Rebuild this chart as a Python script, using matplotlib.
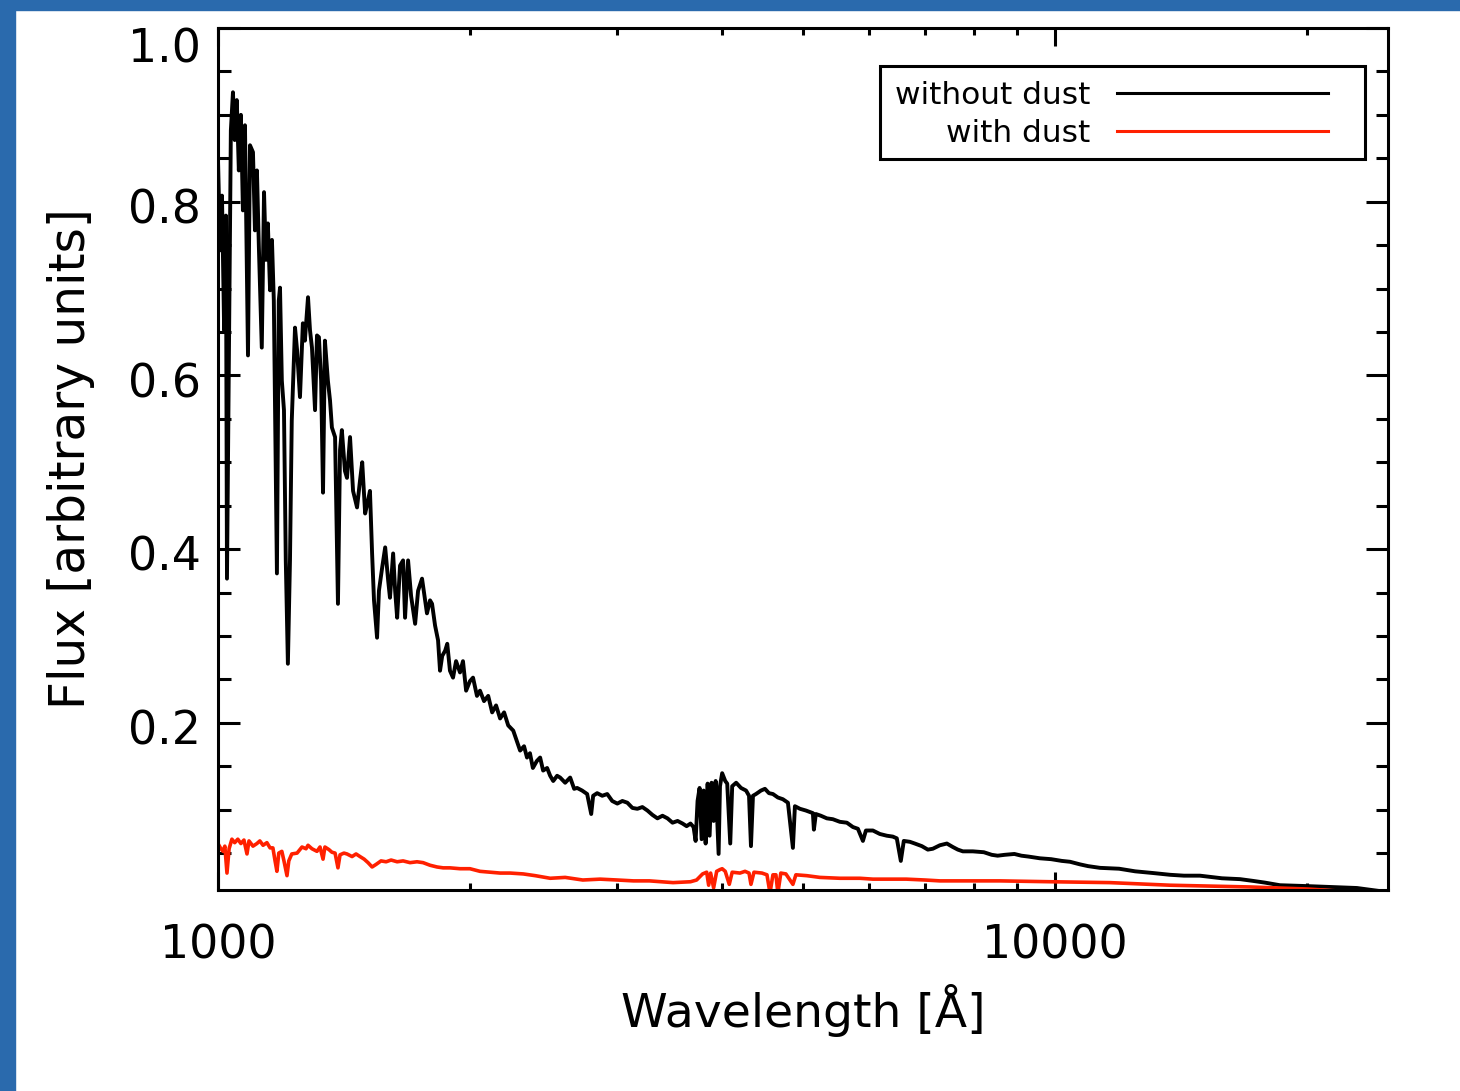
import matplotlib
matplotlib.use('Agg')
import matplotlib.pyplot as plt
from matplotlib.patches import Rectangle
from matplotlib.ticker import FixedLocator, NullFormatter, FixedFormatter
from matplotlib.transforms import ScaledTranslation

# spectrum without dust (wavelength in Angstrom, flux in arbitrary units)
black_wl = [1000, 1006, 1011, 1017, 1022, 1025, 1031, 1036, 1042, 1047, 1053, 1059, 1065, 1071, 1077,
            1086, 1092, 1101, 1107, 1113, 1119, 1128, 1135, 1141, 1147, 1154, 1160, 1166, 1176, 1182,
            1186, 1192, 1199, 1205, 1212, 1219, 1225, 1236, 1243, 1253, 1263, 1270, 1281, 1288, 1295,
            1306, 1313, 1320, 1328, 1335, 1342, 1353, 1361, 1368, 1380, 1391, 1399, 1406, 1418, 1426,
            1438, 1450, 1466, 1478, 1487, 1499, 1511, 1519, 1528, 1536, 1549, 1557, 1571, 1584, 1597,
            1605, 1619, 1628, 1637, 1650, 1664, 1673, 1687, 1701, 1720, 1734, 1753, 1768, 1777, 1792,
            1802, 1817, 1832, 1842, 1853, 1868, 1879, 1893, 1909, 1925, 1946, 1962, 1979, 2000, 2017,
            2039, 2056, 2079, 2103, 2126, 2149, 2173, 2197, 2222, 2253, 2279, 2296, 2321, 2340, 2359,
            2378, 2404, 2426, 2446, 2473, 2494, 2515, 2542, 2563, 2599, 2635, 2664, 2686, 2723, 2761,
            2792, 2807, 2838, 2878, 2918, 2958, 3000, 3042, 3084, 3127, 3170, 3214, 3259, 3304, 3350,
            3397, 3444, 3492, 3541, 3590, 3630, 3669, 3700, 3721, 3741, 3762, 3783, 3804, 3825, 3846,
            3867, 3888, 3910, 3932, 3964, 3979, 4003, 4037, 4059, 4093, 4115, 4160, 4216, 4275, 4310,
            4333, 4357, 4393, 4454, 4503, 4553, 4603, 4666, 4731, 4797, 4863, 4890, 4958, 5040, 5138,
            5152, 5180, 5252, 5339, 5428, 5534, 5641, 5736, 5815, 5896, 5945, 6060, 6177, 6297, 6401,
            6472, 6544, 6598, 6709, 6801, 6934, 7049, 7146, 7286, 7428, 7551, 7655, 7762, 7978, 8223,
            8404, 8541, 8708, 8944, 9119, 9296, 9595, 9895, 10190, 10424, 10715, 10952, 11320, 11930,
            12470, 13110, 13730, 14260, 14900, 15830, 16640, 17240, 17820, 18570, 20000, 21310, 22950,
            25000]
black_flux = [0.848, 0.744, 0.807, 0.652, 0.784, 0.366, 0.652, 0.882, 0.926, 0.871, 0.917, 0.836, 0.900,
              0.790, 0.888, 0.623, 0.865, 0.857, 0.767, 0.836, 0.748, 0.632, 0.811, 0.733, 0.775, 0.698,
              0.756, 0.686, 0.372, 0.686, 0.701, 0.594, 0.560, 0.387, 0.268, 0.387, 0.548, 0.655, 0.629,
              0.575, 0.660, 0.640, 0.690, 0.652, 0.632, 0.560, 0.646, 0.644, 0.594, 0.465, 0.640, 0.594,
              0.571, 0.540, 0.529, 0.337, 0.514, 0.537, 0.490, 0.482, 0.529, 0.467, 0.448, 0.479, 0.500,
              0.441, 0.456, 0.467, 0.395, 0.341, 0.298, 0.352, 0.379, 0.402, 0.364, 0.344, 0.395, 0.352,
              0.321, 0.381, 0.387, 0.321, 0.387, 0.346, 0.314, 0.352, 0.366, 0.341, 0.326, 0.341, 0.337,
              0.312, 0.295, 0.260, 0.277, 0.283, 0.291, 0.260, 0.252, 0.271, 0.258, 0.271, 0.237, 0.248,
              0.252, 0.231, 0.237, 0.225, 0.231, 0.212, 0.220, 0.205, 0.212, 0.197, 0.191, 0.177, 0.168,
              0.173, 0.160, 0.165, 0.148, 0.156, 0.160, 0.145, 0.148, 0.139, 0.133, 0.139, 0.137, 0.131,
              0.137, 0.124, 0.125, 0.122, 0.118, 0.095, 0.116, 0.119, 0.116, 0.118, 0.110, 0.107, 0.110,
              0.108, 0.102, 0.101, 0.103, 0.099, 0.094, 0.090, 0.093, 0.090, 0.085, 0.087, 0.084, 0.081,
              0.084, 0.080, 0.064, 0.110, 0.125, 0.066, 0.122, 0.061, 0.130, 0.070, 0.131, 0.087, 0.133,
              0.049, 0.127, 0.142, 0.133, 0.130, 0.061, 0.127, 0.131, 0.125, 0.122, 0.116, 0.058, 0.116,
              0.118, 0.122, 0.124, 0.119, 0.118, 0.114, 0.112, 0.108, 0.056, 0.104, 0.101, 0.099, 0.096,
              0.077, 0.095, 0.093, 0.090, 0.089, 0.086, 0.085, 0.080, 0.078, 0.064, 0.076, 0.076, 0.072,
              0.070, 0.069, 0.067, 0.041, 0.064, 0.063, 0.061, 0.058, 0.054, 0.055, 0.059, 0.061, 0.057,
              0.054, 0.052, 0.052, 0.051, 0.048, 0.047, 0.048, 0.049, 0.047, 0.046, 0.044, 0.043, 0.041,
              0.040, 0.037, 0.035, 0.033, 0.032, 0.029, 0.027, 0.025, 0.024, 0.024, 0.021, 0.020, 0.018,
              0.016, 0.013, 0.012, 0.011, 0.0098, 0.005]

# spectrum with dust
red_wl = [1000, 1008, 1014, 1019, 1025, 1031, 1039, 1047, 1056, 1065, 1074, 1083, 1089, 1101, 1113,
          1122, 1132, 1144, 1154, 1163, 1170, 1176, 1182, 1192, 1199, 1209, 1215, 1225, 1243, 1260,
          1274, 1281, 1295, 1313, 1324, 1335, 1342, 1357, 1368, 1380, 1391, 1399, 1414, 1426, 1446,
          1462, 1478, 1495, 1511, 1528, 1545, 1566, 1588, 1610, 1637, 1664, 1696, 1729, 1758, 1792,
          1827, 1858, 1893, 1946, 2000, 2056, 2114, 2173, 2234, 2316, 2394, 2494, 2599, 2728, 2861,
          3000, 3136, 3277, 3497, 3669, 3731, 3793, 3836, 3857, 3878, 3910, 3943, 3979, 4003, 4037,
          4082, 4115, 4204, 4263, 4310, 4333, 4369, 4466, 4528, 4566, 4603, 4641, 4666, 4704, 4770,
          4863, 4903, 5053, 5238, 5534, 5847, 6060, 6349, 6644, 6995, 7286, 7762, 8597, 9895, 11630,
          13730, 17100, 20060, 22950]
red_flux = [0.061, 0.055, 0.052, 0.058, 0.027, 0.055, 0.066, 0.062, 0.066, 0.061, 0.065, 0.049, 0.064,
            0.058, 0.061, 0.064, 0.059, 0.062, 0.056, 0.056, 0.041, 0.029, 0.050, 0.052, 0.041, 0.024,
            0.041, 0.049, 0.050, 0.057, 0.055, 0.059, 0.055, 0.052, 0.057, 0.043, 0.057, 0.054, 0.051,
            0.050, 0.033, 0.048, 0.050, 0.049, 0.046, 0.049, 0.046, 0.043, 0.039, 0.034, 0.037, 0.041,
            0.040, 0.042, 0.040, 0.041, 0.039, 0.040, 0.039, 0.036, 0.034, 0.033, 0.033, 0.032, 0.032,
            0.029, 0.028, 0.027, 0.027, 0.026, 0.024, 0.021, 0.022, 0.019, 0.020, 0.019, 0.018, 0.018,
            0.016, 0.017, 0.019, 0.026, 0.028, 0.013, 0.027, 0.010, 0.029, 0.031, 0.032, 0.029, 0.014,
            0.028, 0.027, 0.029, 0.027, 0.014, 0.028, 0.027, 0.025, 0.004, 0.025, 0.025, 0.004, 0.027,
            0.026, 0.014, 0.025, 0.024, 0.022, 0.021, 0.021, 0.020, 0.020, 0.020, 0.019, 0.018, 0.018,
            0.018, 0.017, 0.016, 0.013, 0.011, 0.0086, 0.005]

labels = ['without dust', 'with dust']
colors = ['black', '#ff2000']
x_major = [1000, 10000]
x_minor = [2000, 3000, 4000, 5000, 6000, 7000, 8000, 9000, 20000]
y_major = [0.2, 0.4, 0.6, 0.8, 1.0]
y_minor = [0.05, 0.1, 0.15, 0.25, 0.3, 0.35, 0.45, 0.5, 0.55, 0.65, 0.7, 0.75, 0.85, 0.9, 0.95]

plt.rcParams['font.family'] = ['DejaVu Sans']

fig = plt.figure(figsize=(14.6, 10.91), dpi=100)
ax = fig.add_axes([218 / 1460, 201 / 1091, 1170 / 1460, 862 / 1091])

# blue frame of the slide
fig.patches.append(Rectangle((0, 0), 15 / 1460, 1, transform=fig.transFigure, color='#2a6aad', zorder=0))
fig.patches.append(Rectangle((0, 1 - 10 / 1091), 1, 10 / 1091, transform=fig.transFigure, color='#2a6aad', zorder=0))

ax.plot(black_wl, black_flux, color=colors[0], lw=2.8)
ax.plot(red_wl, red_flux, color=colors[1], lw=2.6)

ax.set_xscale('log')
ax.set_xlim(1000, 25000)
ax.set_ylim(0.0075, 1.0)

ax.xaxis.set_major_locator(FixedLocator(x_major))
ax.xaxis.set_major_formatter(FixedFormatter([str(v) for v in x_major]))
ax.xaxis.set_minor_locator(FixedLocator(x_minor))
ax.xaxis.set_minor_formatter(NullFormatter())
ax.yaxis.set_major_locator(FixedLocator(y_major))
ax.yaxis.set_major_formatter(FixedFormatter(['%.1f' % v for v in y_major]))
ax.yaxis.set_minor_locator(FixedLocator(y_minor))

ax.tick_params(axis='both', which='both', direction='in', top=True, right=True, width=2.2, labelsize=33)
ax.tick_params(axis='x', which='major', length=13, pad=24)
ax.tick_params(axis='x', which='minor', length=5)
ax.tick_params(axis='y', which='major', length=16, pad=12)
ax.tick_params(axis='y', which='minor', length=9)
for s in ax.spines.values():
    s.set_linewidth(2.2)

# IDL-like placement of the y labels: slightly below the ticks, top one pushed inside
for i, tick in enumerate(ax.yaxis.get_major_ticks()):
    dy = -12.5 if i == len(y_major) - 1 else -3
    tick.label1.set_transform(tick.label1.get_transform() + ScaledTranslation(0, dy / 72, fig.dpi_scale_trans))

ax.set_xlabel('Wavelength [Å]', fontsize=34, labelpad=11)
ax.set_ylabel('Flux [arbitrary units]', fontsize=35, labelpad=24)

# legend box: text on the left, line sample on the right
ax.add_patch(Rectangle((0.5658, 0.8480), 0.9803 - 0.5658, 0.9559 - 0.8480, transform=ax.transAxes,
                       facecolor='white', edgecolor='black', lw=2.2, zorder=5))
for lab, col, yy in zip(labels, colors, [0.9246, 0.8805]):
    ax.text(0.7453, yy - 0.003, lab, transform=ax.transAxes, ha='right', va='center', fontsize=22.5, zorder=6)
    ax.plot([0.7684, 0.9487], [yy, yy], transform=ax.transAxes, color=col, lw=2.2, zorder=6)

fig.savefig('out.png', dpi=100)
